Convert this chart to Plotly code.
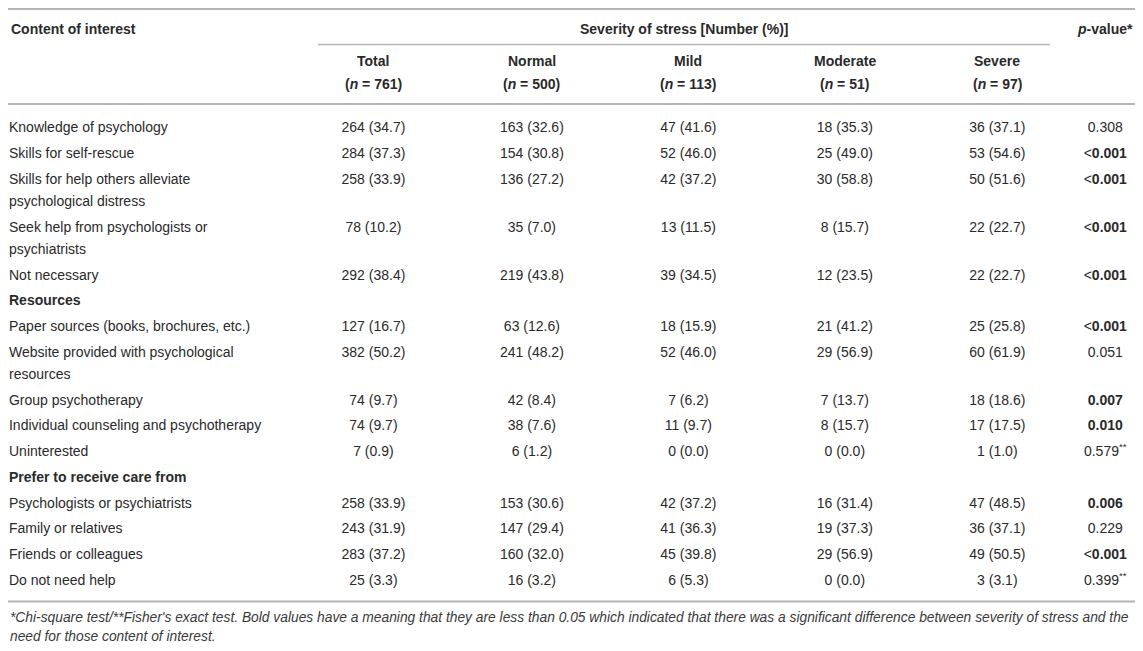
import plotly.graph_objects as go

# table content
labels = [
    "Knowledge of psychology",
    "Skills for self-rescue",
    "Skills for help others alleviate<br>psychological distress",
    "Seek help from psychologists or<br>psychiatrists",
    "Not necessary",
    "Resources",
    "Paper sources (books, brochures, etc.)",
    "Website provided with psychological<br>resources",
    "Group psychotherapy",
    "Individual counseling and psychotherapy",
    "Uninterested",
    "Prefer to receive care from",
    "Psychologists or psychiatrists",
    "Family or relatives",
    "Friends or colleagues",
    "Do not need help",
]
section_rows = ["Resources", "Prefer to receive care from"]

groups = ["Total", "Normal", "Mild", "Moderate", "Severe"]
group_n = [761, 500, 113, 51, 97]

total_n = [264, 284, 258, 78, 292, None, 127, 382, 74, 74, 7, None, 258, 243, 283, 25]
total_pct = [34.7, 37.3, 33.9, 10.2, 38.4, None, 16.7, 50.2, 9.7, 9.7, 0.9, None, 33.9, 31.9, 37.2, 3.3]
normal_n = [163, 154, 136, 35, 219, None, 63, 241, 42, 38, 6, None, 153, 147, 160, 16]
normal_pct = [32.6, 30.8, 27.2, 7.0, 43.8, None, 12.6, 48.2, 8.4, 7.6, 1.2, None, 30.6, 29.4, 32.0, 3.2]
mild_n = [47, 52, 42, 13, 39, None, 18, 52, 7, 11, 0, None, 42, 41, 45, 6]
mild_pct = [41.6, 46.0, 37.2, 11.5, 34.5, None, 15.9, 46.0, 6.2, 9.7, 0.0, None, 37.2, 36.3, 39.8, 5.3]
moderate_n = [18, 25, 30, 8, 12, None, 21, 29, 7, 8, 0, None, 16, 19, 29, 0]
moderate_pct = [35.3, 49.0, 58.8, 15.7, 23.5, None, 41.2, 56.9, 13.7, 15.7, 0.0, None, 31.4, 37.3, 56.9, 0.0]
severe_n = [36, 53, 50, 22, 22, None, 25, 60, 18, 17, 1, None, 47, 36, 49, 3]
severe_pct = [37.1, 54.6, 51.6, 22.7, 22.7, None, 25.8, 61.9, 18.6, 17.5, 1.0, None, 48.5, 37.1, 50.5, 3.1]
p_values = ["0.308", "<0.001", "<0.001", "<0.001", "<0.001", "", "<0.001", "0.051", "0.007",
            "0.010", "0.579**", "", "0.006", "0.229", "<0.001", "0.399**"]

footnote_lines = [
    "*Chi-square test/**Fisher's exact test. Bold values have a meaning that they are less than 0.05 "
    "which indicated that there was a significant difference between severity of stress and the",
    "need for those content of interest.",
]

# layout in reference pixels; the page body has an 8px margin, so the figure
# is drawn 16px smaller and the axes map the reference area onto it
W, H = 1143, 651
PAGE_PAD = 8
X0, X1 = 3, 1141
Y0, Y1 = 3, 645
FONT = "Liberation Sans, Arial, sans-serif"
TXT = "#2a2a2a"
RULE = "#b4b4b4"
col_x = [372, 532, 690, 848, 1002]
p_x = 1111
label_x = 4
first_row_y = 125
pitch = 26
extra_line = 22.5
wrap_gap = 22.5

counts = [(total_n, total_pct), (normal_n, normal_pct), (mild_n, mild_pct),
          (moderate_n, moderate_pct), (severe_n, severe_pct)]

row_y = []
y = first_row_y
for lab in labels:
    row_y.append(y)
    y += pitch + extra_line * lab.count("<br>")

fig = go.Figure()

# first column (left aligned), wrapped labels split onto separate lines
lx, ly, lt = [], [], []
for lab, yy in zip(labels, row_y):
    for k, part in enumerate(lab.split("<br>")):
        lx.append(label_x)
        ly.append(yy + k * wrap_gap)
        lt.append(f"<b>{part}</b>" if lab in section_rows else part)
fig.add_trace(go.Scatter(x=lx, y=ly, text=lt, mode="text", textposition="middle right",
                         textfont=dict(family=FONT, size=14, color=TXT), hoverinfo="skip"))

# count columns
for cx, (ns, ps) in zip(col_x, counts):
    xs, ys, ts = [], [], []
    for n, p, yy in zip(ns, ps, row_y):
        if n is None:
            continue
        xs.append(cx)
        ys.append(yy)
        ts.append(f"{n} ({p:.1f})")
    fig.add_trace(go.Scatter(x=xs, y=ys, text=ts, mode="text", textposition="middle center",
                             textfont=dict(family=FONT, size=14, color=TXT), hoverinfo="skip"))


# p-value column
def fmt_p(s):
    stars = ""
    core = s
    if s.endswith("**"):
        core, stars = s[:-2], "<sup>**</sup>"
    if core.startswith("<"):
        return "&lt;<b>" + core[1:] + "</b>" + stars
    if float(core) < 0.05:
        return "<b>" + core + "</b>" + stars
    return core + stars


px, py, pt = [], [], []
for s, yy in zip(p_values, row_y):
    if s:
        px.append(p_x)
        py.append(yy)
        pt.append(fmt_p(s))
fig.add_trace(go.Scatter(x=px, y=py, text=pt, mode="text", textposition="middle center",
                         textfont=dict(family=FONT, size=14, color=TXT), hoverinfo="skip"))

# header
hdr = dict(family=FONT, size=14, color=TXT)
fig.add_annotation(x=label_x, y=24, text="<b>Content of interest</b>", showarrow=False,
                   xanchor="left", font=hdr)
fig.add_annotation(x=(col_x[0] + col_x[-1]) / 2 - 1, y=24, text="<b>Severity of stress [Number (%)]</b>",
                   showarrow=False, font=hdr)
fig.add_annotation(x=p_x, y=24, text="<b><i>p</i>-value*</b>", showarrow=False, font=hdr)
for cx, g, n in zip(col_x, groups, group_n):
    fig.add_annotation(x=cx, y=57, text=f"<b>{g}</b>", showarrow=False, font=hdr)
    fig.add_annotation(x=cx, y=80, text=f"<b>(<i>n</i> = {n})</b>", showarrow=False, font=hdr)

# footnote
for k, line in enumerate(footnote_lines):
    fig.add_annotation(x=X0, y=619 + 19 * k, text=f"<i>{line}</i>", showarrow=False,
                       xanchor="left", font=dict(family=FONT, size=13.8, color="#3a3a3a"))

# rules
for yy, x0, x1, w in [(4, X0, X1, 2), (40, 316, 1055, 1.5), (100, X0, X1, 2), (603, X0, X1, 2)]:
    fig.add_shape(type="line", x0=x0, x1=x1, y0=yy, y1=yy, xref="x", yref="y",
                  line=dict(color=RULE, width=w))

fig.update_xaxes(range=[X0, X1], visible=False, fixedrange=True)
fig.update_yaxes(range=[Y1, Y0], visible=False, fixedrange=True)
fig.update_layout(width=W - 2 * PAGE_PAD, height=H - 2 * PAGE_PAD, margin=dict(l=0, r=0, t=0, b=0),
                  showlegend=False, plot_bgcolor="white", paper_bgcolor="white")

fig.write_html("out.html")
